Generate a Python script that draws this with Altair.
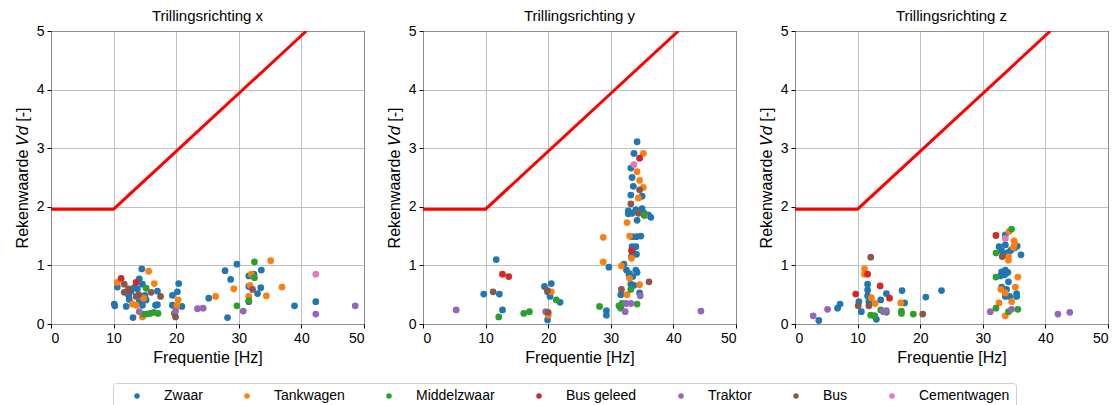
import altair as alt
import pandas as pd

CATEGORIES = ["Zwaar", "Tankwagen", "Middelzwaar", "Bus geleed", "Traktor", "Bus", "Cementwagen"]
COLORS = ["#1f77b4", "#ff7f0e", "#2ca02c", "#d62728", "#9467bd", "#8c564b", "#e377c2"]

X_TICKS = [0, 10, 20, 30, 40, 50]
Y_TICKS = [0, 1, 2, 3, 4, 5]

# limit curve (Hz, Vd)
LIMIT_F = [0, 10, 40.8]
LIMIT_V = [1.96, 1.96, 5.0]

# ---- Trillingsrichting x : (frequency, Vd) ----
X_ZWAAR = [(10.1, 0.34), (10.2, 0.31), (10.6, 0.63), (12.0, 0.30), (12.4, 0.49), (12.8, 0.56), (13.1, 0.11),
           (13.3, 0.62), (14.1, 0.77), (14.5, 0.94), (14.6, 0.68), (14.1, 0.38), (14.6, 0.32), (15.0, 0.49),
           (15.2, 0.41), (17.0, 0.56), (16.7, 0.32), (17.0, 0.33), (19.4, 0.49), (20.4, 0.69), (20.2, 0.55),
           (19.4, 0.32), (20.9, 0.30), (25.2, 0.44), (27.8, 0.91), (28.2, 0.11), (28.7, 0.76), (29.7, 1.02),
           (31.6, 0.82), (32.4, 0.85), (31.6, 0.64), (33.5, 0.62), (33.6, 0.92), (33.0, 0.52), (31.6, 0.38),
           (38.9, 0.31), (42.3, 0.38), (12.5, 0.42), (13.8, 0.60)]
X_TANK = [(10.6, 0.71), (13.0, 0.34), (13.6, 0.32), (14.6, 0.12), (15.6, 0.90), (16.5, 0.69), (14.8, 0.44),
          (20.3, 0.41), (20.1, 0.31), (26.3, 0.47), (29.2, 0.60), (31.6, 0.47), (32.0, 0.85), (31.8, 0.66),
          (34.4, 0.48), (35.1, 1.08), (36.9, 0.63)]
X_MIDDEL = [(15.2, 0.61), (14.8, 0.17), (15.3, 0.17), (15.8, 0.18), (16.4, 0.20), (17.1, 0.18), (19.7, 0.18),
            (29.7, 0.31), (31.6, 0.40), (32.5, 1.06), (32.5, 0.79)]
X_BUSGELEED = [(11.2, 0.78), (12.4, 0.58), (13.6, 0.71)]
X_TRAKTOR = [(14.1, 0.21), (19.9, 0.22), (23.4, 0.26), (24.3, 0.27), (30.7, 0.22), (42.3, 0.17), (48.6, 0.31)]
X_BUS = [(11.7, 0.68), (11.7, 0.54), (12.4, 0.60), (13.6, 0.47), (14.0, 0.50), (16.0, 0.54), (17.5, 0.47),
         (19.9, 0.12), (32.2, 0.59)]
X_CEMENT = [(42.3, 0.85)]

# ---- Trillingsrichting y ----
Y_ZWAAR = [(9.7, 0.51), (11.7, 1.10), (12.2, 0.51), (12.7, 0.24), (19.4, 0.64), (20.5, 0.69), (19.9, 0.55),
           (20.3, 0.47), (21.9, 0.37), (19.9, 0.07), (29.3, 0.23), (29.3, 0.15), (29.7, 0.97), (32.1, 1.02),
           (34.2, 3.11), (33.7, 2.91), (33.2, 2.66), (33.4, 2.50), (33.6, 2.35), (33.2, 2.20), (35.0, 2.18),
           (32.8, 1.93), (32.8, 1.88), (34.0, 1.95), (35.0, 1.97), (35.3, 1.89), (36.0, 1.86), (36.4, 1.82),
           (34.2, 1.77), (33.4, 1.89), (33.4, 1.49), (34.1, 1.49), (34.8, 1.50), (33.4, 1.32), (34.0, 1.32),
           (33.5, 1.23), (34.1, 1.19), (33.3, 1.15), (32.5, 0.92), (33.0, 0.86), (34.0, 0.92), (34.2, 0.88),
           (33.5, 0.81), (32.9, 0.84), (33.2, 0.68), (33.7, 0.66), (31.6, 0.50), (34.6, 0.53)]
Y_TANK = [(20.5, 0.55), (20.0, 0.15), (28.8, 1.48), (28.8, 1.06), (35.2, 2.91), (34.2, 2.60), (34.6, 2.45),
          (35.2, 2.33), (34.4, 2.15), (32.6, 1.73), (33.0, 1.50), (33.3, 1.12), (31.7, 0.99), (33.0, 0.78),
          (34.6, 0.67), (32.6, 0.50), (35.4, 1.85)]
Y_MIDDEL = [(12.1, 0.12), (16.1, 0.18), (17.0, 0.21), (21.3, 0.41), (28.2, 0.30), (31.3, 0.31), (31.6, 0.27),
            (31.8, 0.35), (33.2, 0.59), (34.2, 0.34), (35.3, 1.86)]
Y_BUSGELEED = [(12.7, 0.85), (13.7, 0.81), (34.6, 2.83), (33.3, 1.25)]
Y_TRAKTOR = [(5.3, 0.24), (19.6, 0.21), (32.3, 0.21), (32.4, 0.35), (33.2, 0.35), (34.7, 0.48), (44.4, 0.22)]
Y_BUS = [(11.2, 0.55), (19.9, 0.57), (20.0, 0.20), (31.7, 0.59), (33.2, 2.05), (34.6, 2.29), (34.4, 1.89),
         (36.1, 0.72)]
Y_CEMENT = [(33.7, 2.72)]

# ---- Trillingsrichting z ----
Z_ZWAAR = [(3.8, 0.06), (6.8, 0.27), (7.2, 0.34), (10.2, 0.38), (10.6, 0.21), (11.6, 0.68), (11.6, 0.58),
           (11.6, 0.48), (11.8, 0.38), (13.0, 0.08), (12.7, 0.14), (13.7, 0.41), (14.6, 0.52), (17.1, 0.57),
           (17.5, 0.36), (20.9, 0.46), (23.4, 0.57), (33.6, 1.52), (32.6, 1.32), (33.0, 1.25), (33.6, 1.35),
           (34.1, 1.22), (35.1, 1.30), (35.5, 1.33), (34.5, 1.26), (33.8, 1.20), (36.1, 1.18), (33.0, 0.89),
           (33.6, 0.92), (34.0, 0.88), (33.5, 0.84), (34.1, 0.72), (33.0, 0.63), (33.8, 0.59), (33.6, 0.47),
           (34.3, 0.47), (35.4, 0.52), (35.4, 0.47), (32.8, 0.82)]
Z_TANK = [(11.1, 0.94), (11.1, 0.85), (12.2, 0.45), (12.8, 0.35), (16.9, 0.36), (34.2, 1.58), (35.0, 1.42),
          (35.1, 1.38), (34.9, 1.31), (34.1, 1.09), (34.1, 1.15), (35.6, 0.80), (35.2, 0.63), (32.9, 0.59),
          (33.6, 0.53), (32.6, 0.36), (34.6, 0.38), (33.6, 0.14)]
Z_MIDDEL = [(12.1, 0.15), (12.7, 0.14), (13.7, 0.24), (14.6, 0.20), (17.0, 0.22), (17.0, 0.18), (18.9, 0.17),
            (32.1, 1.21), (32.1, 0.80), (32.1, 0.27), (34.6, 1.62), (34.1, 0.21), (35.6, 0.25)]
Z_BUSGELEED = [(9.7, 0.51), (11.6, 0.85), (13.6, 0.65), (15.1, 0.44), (32.1, 1.51)]
Z_TRAKTOR = [(2.9, 0.14), (5.2, 0.25), (14.1, 0.21), (14.6, 0.23), (31.2, 0.21), (34.6, 0.25), (42.0, 0.17),
             (43.9, 0.20)]
Z_BUS = [(10.1, 0.31), (11.8, 0.31), (12.1, 1.14), (20.4, 0.17), (33.1, 1.15)]
Z_CEMENT = [(33.6, 1.46)]

FONT = "Liberation Sans"
Y_TITLE = "Rekenwaarde \U0001D449\U0001D451 [-]"


def build_df(groups):
    rows = []
    for cat, pts in zip(CATEGORIES, groups):
        for f, v in pts:
            rows.append({"f": f, "v": v, "cat": cat})
    return pd.DataFrame(rows)


def panel(title, groups):
    df = build_df(groups)
    xenc = alt.X("f:Q", scale=alt.Scale(domain=[0, 50], nice=False),
                 axis=alt.Axis(values=X_TICKS, title="Frequentie [Hz]"))
    yenc = alt.Y("v:Q", scale=alt.Scale(domain=[0, 5], nice=False),
                 axis=alt.Axis(values=Y_TICKS, title=Y_TITLE))
    line = alt.Chart(pd.DataFrame({"f": LIMIT_F, "v": LIMIT_V})).mark_line(
        color="#ff0000", strokeWidth=3, clip=True).encode(x=xenc, y=yenc)
    pts = alt.Chart(df).mark_circle(size=46, opacity=1).encode(
        x=xenc, y=yenc,
        color=alt.Color("cat:N", scale=alt.Scale(domain=CATEGORIES, range=COLORS),
                        legend=alt.Legend(orient="none", direction="horizontal", title=None,
                                          legendX=62, legendY=352,
                                          strokeColor="#d0d0d0", cornerRadius=3, padding=6,
                                          fillColor="white", columnPadding=26,
                                          symbolType="circle", symbolSize=30, symbolStrokeWidth=0,
                                          symbolOffset=11,
                                          labelFontSize=14, labelFont=FONT, labelOffset=20)),
    )
    return alt.layer(line, pts).properties(width=313, height=293,
                                           title=alt.TitleParams(title, fontSize=15, fontWeight="normal",
                                                                 font=FONT, offset=0))


chart = alt.hconcat(
    panel("Trillingsrichting x", [X_ZWAAR, X_TANK, X_MIDDEL, X_BUSGELEED, X_TRAKTOR, X_BUS, X_CEMENT]),
    panel("Trillingsrichting y", [Y_ZWAAR, Y_TANK, Y_MIDDEL, Y_BUSGELEED, Y_TRAKTOR, Y_BUS, Y_CEMENT]),
    panel("Trillingsrichting z", [Z_ZWAAR, Z_TANK, Z_MIDDEL, Z_BUSGELEED, Z_TRAKTOR, Z_BUS, Z_CEMENT]),
    spacing=59, bounds="flush",
).properties(
    padding={"left": 5, "top": 0, "right": 0, "bottom": 0}
).configure_view(
    stroke="black", strokeWidth=1
).configure_axis(
    domain=False, tickColor="black", tickSize=4, tickWidth=1,
    grid=True, gridColor="#b0b0b0", gridWidth=1, gridOpacity=0.8,
    labelFont=FONT, labelFontSize=14, labelColor="black", labelPadding=3,
    titleFont=FONT, titleFontSize=16, titleFontWeight="normal", titleColor="black",
).configure_axisX(titlePadding=4).configure_axisY(titlePadding=6)

chart.save("out.html", embed_options={"renderer": "svg", "actions": False})
